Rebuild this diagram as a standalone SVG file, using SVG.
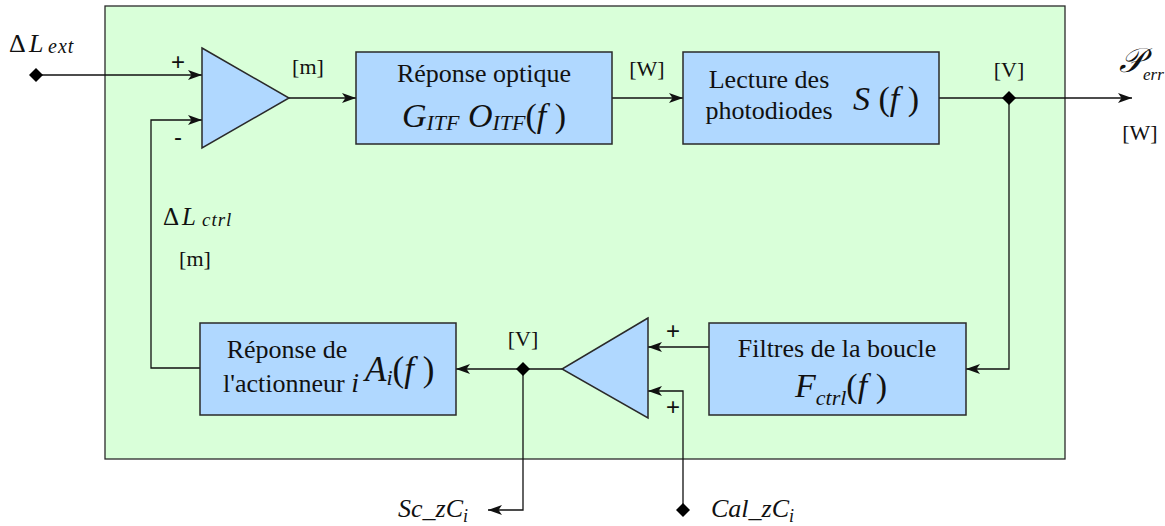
<svg xmlns="http://www.w3.org/2000/svg" width="1165" height="526" viewBox="0 0 1165 526">
<style>
.box{fill:#b0d8ff;stroke:#2a2a2a;stroke-width:1.5}
.frame{fill:#d9ffd9;stroke:#2a2a2a;stroke-width:1.3}
.ln{fill:none;stroke:#111;stroke-width:1.3}
text{fill:#111}
.it{font-style:italic}
</style>
<defs>
<marker id="ar" viewBox="0 0 14 10" refX="14" refY="5" markerWidth="14" markerHeight="10" markerUnits="userSpaceOnUse" orient="auto">
<path d="M0,0 L14,5 L0,10 L3.5,5 Z" fill="#111"/>
</marker>
<path id="dm" d="M-7,0 L0,-7 L7,0 L0,7 Z" fill="#000"/>
</defs>
<rect class="frame" x="105" y="6" width="960" height="453"/>

<g id="connectors">
<path class="ln" d="M36,75 H202" marker-end="url(#ar)"/>
<path class="ln" d="M200,368 H151 V120 H202" marker-end="url(#ar)"/>
<path class="ln" d="M289,98 H356" marker-end="url(#ar)"/>
<path class="ln" d="M612,98 H683" marker-end="url(#ar)"/>
<path class="ln" d="M939,98 H1132" marker-end="url(#ar)"/>
<path class="ln" d="M1009,98 V369 H966" marker-end="url(#ar)"/>
<path class="ln" d="M709,347 H648" marker-end="url(#ar)"/>
<path class="ln" d="M683,510 V391 H648" marker-end="url(#ar)"/>
<path class="ln" d="M562,369 H456" marker-end="url(#ar)"/>
<path class="ln" d="M523,369 V510 H488" marker-end="url(#ar)"/>
<use href="#dm" x="36" y="75"/>
<use href="#dm" x="1009" y="98"/>
<use href="#dm" x="523" y="369"/>
<use href="#dm" x="683" y="510"/>
</g>

<g id="sum1">
<path class="box" d="M202,48 L289,98 L202,148 Z" stroke-width="1.3"/>
<text font-family="Liberation Sans" x="178" y="70" font-size="24" text-anchor="middle">+</text>
<text font-family="Liberation Sans" x="178" y="145" font-size="24" text-anchor="middle">-</text>
</g>

<g id="optique">
<rect class="box" x="356" y="52" width="256" height="92"/>
<text font-family="Liberation Serif" x="484" y="82" font-size="26" text-anchor="middle">Réponse optique</text>
<text font-family="Liberation Serif" class="it" x="484" y="127" font-size="34" text-anchor="middle">G<tspan font-size="22" dy="3">ITF</tspan><tspan dy="-3"> O</tspan><tspan font-size="22" dy="3">ITF</tspan><tspan dy="-3" font-style="normal">(</tspan>f<tspan font-style="normal"> )</tspan></text>
</g>

<g id="photodiodes">
<rect class="box" x="683" y="52" width="256" height="92"/>
<text font-family="Liberation Serif" x="769" y="88" font-size="26" text-anchor="middle">Lecture des</text>
<text font-family="Liberation Serif" x="769" y="119" font-size="26" text-anchor="middle">photodiodes</text>
<text font-family="Liberation Serif" class="it" x="853" y="110" font-size="34">S<tspan font-style="normal"> (</tspan>f<tspan font-style="normal"> )</tspan></text>
</g>

<g id="filtres">
<rect class="box" x="709" y="323" width="257" height="92"/>
<text font-family="Liberation Serif" x="837" y="357" font-size="26" text-anchor="middle">Filtres de la boucle</text>
<text font-family="Liberation Serif" class="it" x="795" y="397" font-size="34">F<tspan font-size="22" dy="8">ctrl</tspan><tspan dy="-8" font-style="normal">(</tspan>f<tspan font-style="normal"> )</tspan></text>
</g>

<g id="sum2">
<path class="box" d="M648,318 L562,369 L648,418 Z" stroke-width="1.3"/>
<text font-family="Liberation Sans" x="673" y="339" font-size="24" text-anchor="middle">+</text>
<text font-family="Liberation Sans" x="673" y="415" font-size="24" text-anchor="middle">+</text>
</g>

<g id="actionneur">
<rect class="box" x="200" y="323" width="256" height="92"/>
<text font-family="Liberation Serif" x="287" y="358" font-size="26" text-anchor="middle">Réponse de</text>
<text font-family="Liberation Serif" x="223" y="392" font-size="26">l'actionneur <tspan class="it" font-size="28">i</tspan></text>
<text font-family="Liberation Serif" class="it" x="365" y="381" font-size="35">A<tspan font-size="22" dy="4">i</tspan><tspan dy="-4" font-style="normal">(</tspan>f<tspan font-style="normal"> )</tspan></text>
</g>

<g id="labels">
<text font-family="Liberation Serif" x="9" y="52" font-size="26">Δ<tspan class="it" x="29">L</tspan><tspan class="it" x="48" dy="1" font-size="20" letter-spacing="1">ext</tspan></text>
<text font-family="Liberation Serif" x="308" y="74" font-size="22" text-anchor="middle">[m]</text>
<text font-family="Liberation Serif" x="647" y="76" font-size="22" text-anchor="middle">[W]</text>
<text font-family="Liberation Serif" x="1009" y="77" font-size="22" text-anchor="middle">[V]</text>
<text font-family="Liberation Serif" class="it" x="1119" y="72" font-size="34">𝒫<tspan x="1143" y="80" font-size="17">err</tspan></text>
<text font-family="Liberation Serif" x="1140" y="140" font-size="22" text-anchor="middle">[W]</text>
<text font-family="Liberation Serif" x="163" y="225" font-size="25">Δ<tspan class="it" x="182">L</tspan><tspan class="it" x="202" dy="1" font-size="19" letter-spacing="1">ctrl</tspan></text>
<text font-family="Liberation Serif" x="195" y="266" font-size="22" text-anchor="middle">[m]</text>
<text font-family="Liberation Serif" x="523" y="346" font-size="22" text-anchor="middle">[V]</text>
<text font-family="Liberation Serif" class="it" x="398" y="517" font-size="26">Sc_zC<tspan font-size="18" dy="5">i</tspan></text>
<text font-family="Liberation Serif" class="it" x="711" y="517" font-size="26">Cal_zC<tspan font-size="18" dy="5">i</tspan></text>
</g>
</svg>
